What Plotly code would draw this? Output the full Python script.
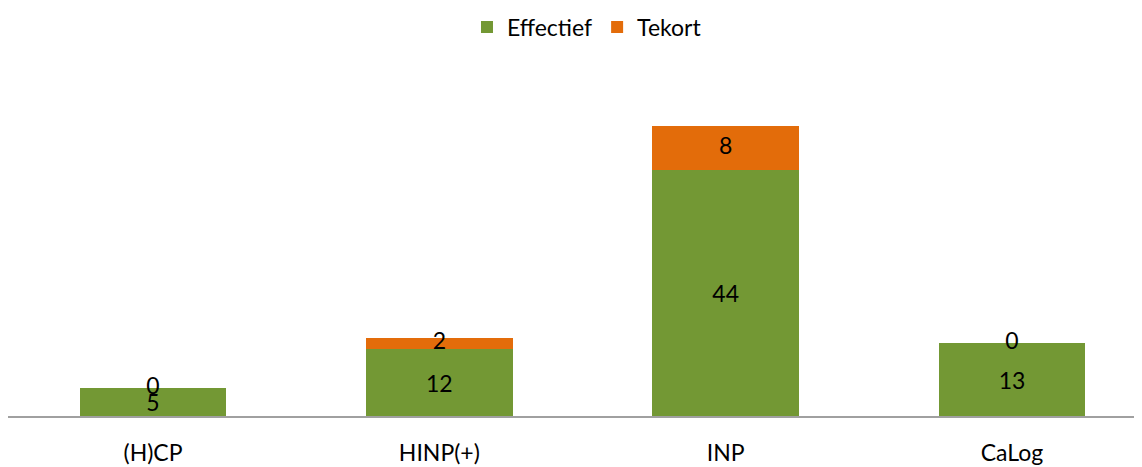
import plotly.graph_objects as go

categories = ["(H)CP", "HINP(+)", "INP", "CaLog"]
effectief = [5, 12, 44, 13]
tekort = [0, 2, 8, 0]

green = "#739834"
orange = "#E36C0A"
font_family = "Lato, 'Open Sans', sans-serif"
fs = 23

fig = go.Figure()
fig.add_trace(go.Bar(
    x=categories, y=effectief, name="Effectief",
    marker=dict(color=green, line=dict(width=0)),
    text=[str(v) for v in effectief], textposition="inside", textangle=0,
    insidetextanchor="middle", constraintext="none",
    textfont=dict(size=fs, color="black", family=font_family),
    width=0.513,
))
fig.add_trace(go.Bar(
    x=categories, y=tekort, name="Tekort",
    marker=dict(color=orange, line=dict(width=0)),
    width=0.513, hoverinfo="skip",
))
fig.add_trace(go.Scatter(
    x=categories, y=[e + t / 2 for e, t in zip(effectief, tekort)],
    mode="text", text=[str(v) for v in tekort],
    textfont=dict(size=fs, color="black", family=font_family),
    textposition="middle center", showlegend=False, cliponaxis=False,
))

fig.update_layout(
    width=1142, height=467,
    barmode="stack",
    plot_bgcolor="white", paper_bgcolor="white",
    margin=dict(l=0, r=0, t=52, b=59, autoexpand=False),
    font=dict(family=font_family, size=fs, color="black"),
    legend=dict(orientation="h", x=0.507, xanchor="center", xref="container",
                y=1 - 19 / 467, yanchor="middle", yref="container",
                font=dict(size=fs), traceorder="normal"),
    showlegend=True,
)
fig.update_xaxes(type="category", range=[-0.5065, 3.482], showline=True,
                 linecolor="#A0A0A0", linewidth=2, ticks="", showgrid=False,
                 automargin=False, tickfont=dict(size=fs), ticklabelstandoff=15)
fig.update_yaxes(range=[0, 63.8], visible=False, showgrid=False, zeroline=False)

fig.write_html("out.html")
